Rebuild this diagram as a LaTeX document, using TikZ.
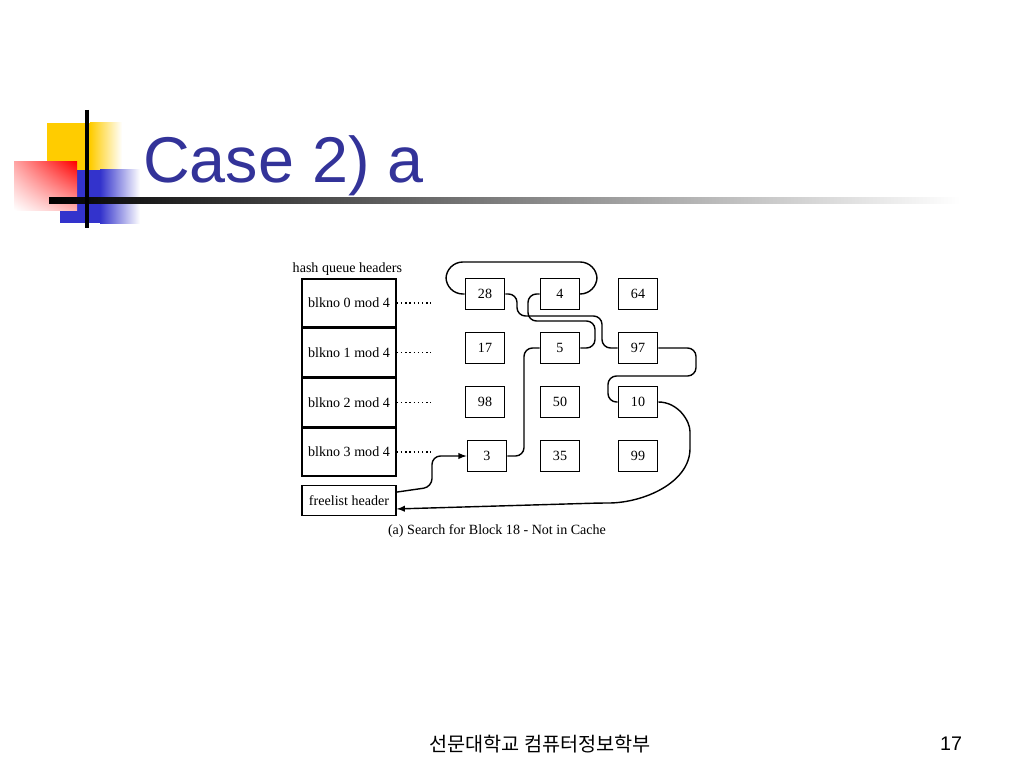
\documentclass[tikz,border=0pt]{standalone}
\usepackage{fontspec}
\setmainfont{Liberation Serif}
\setsansfont{Liberation Sans}
\newfontfamily\cjk{Noto Sans CJK KR}
\usetikzlibrary{shapes,arrows,positioning,shadings}
\definecolor{titleblue}{RGB}{51,51,153}
\definecolor{logoyellow}{RGB}{255,204,0}
\definecolor{logored}{RGB}{255,0,0}
\definecolor{logoblue}{RGB}{51,51,204}
\tikzstyle{hdr} = [rectangle,draw,line width=1pt,minimum width=2.35cm,
  minimum height=1.206cm,inner sep=0pt,font=\fontsize{10}{12}\selectfont]
\tikzstyle{buf} = [rectangle,draw,line width=1.3pt,minimum width=0.975cm,
  minimum height=0.775cm,inner sep=0pt,font=\fontsize{10}{12}\selectfont]
\tikzstyle{link} = [line width=1pt,rounded corners=6pt,>=latex]

\begin{document}
\begin{tikzpicture}[x=0.025cm,y=-0.025cm]
\useasboundingbox (0,0) rectangle (1024,768);

% logo and title rule
\fill[logoyellow] (47,123) rectangle (90,170);
\shade[left color=logoyellow,right color=white] (90,123) rectangle (122,170);
\fill[logoblue] (60,170) rectangle (100,223);
\shade[left color=logoblue,right color=white] (100,170) rectangle (140,223);
\shade[upper left=logored!35,upper right=logored,lower left=white,
  lower right=logored!30] (14,162) rectangle (77,210);
\shade[left color=black,right color=white] (49,197.5) rectangle (960,203);
\draw[line width=2.5pt] (87,110) -- (87,228);

\node[anchor=base west,inner sep=0pt,text=titleblue,
  font=\sffamily\fontsize{46}{50}\selectfont] (title) at (143,183) {Case 2) a};

% hash queues
\node[hdr] (hq0) at (349,303) {blkno 0 mod 4};
\node[hdr,below=0pt of hq0] (hq1) {blkno 1 mod 4};
\node[hdr,below=0pt of hq1] (hq2) {blkno 2 mod 4};
\node[hdr,below=0pt of hq2] (hq3) {blkno 3 mod 4};
\node[hdr,minimum height=0.75cm,below=0.2cm of hq3] (fl) {freelist header};
\node[above=1pt of hq0,xshift=-0.04cm,inner sep=1pt,
  font=\fontsize{10}{12}\selectfont] (hqh) {hash queue headers};

\foreach \i in {0,...,3}
  \draw[dotted,line width=1pt] (hq\i.east) -- ++(34,0);

\foreach \n/\x/\y in {28/485/294,4/560/294,64/638/294,
                      17/485/348,5/560/348,97/638/348,
                      98/485/402,50/560/402,10/638/402,
                      3/487/456,35/560/456,99/638/456}
  \node[buf] (b\n) at (\x,\y) {\n};

% free list
\draw[link,->] ([yshift=6pt]fl.east) -- (432,487) -- (432,456) -- (b3.west);
\draw[link] (b3.east) -| (524,348) -- (b5.west);
\draw[link] (b5.east) -- (595,348) -- (595,321) -- (528,321) -- (528,294) -- (b4.west);
\draw[link,rounded corners=12pt] (b4.east) -- (597,294) -- (597,262)
  -- (446,262) -- (446,294) -- (b28.west);
\draw[link] (b28.east) -- (517,294) -- (517,316) -- (602,316) -- (602,348) -- (b97.west);
\draw[link] (b97.east) -- (696,348) -- (696,376) -- (608,376) -- (608,402) -- (b10.west);
\draw[link,->] (b10.east) to[out=0,in=90] (690,440) to[out=-90,in=0] (600,503)
  -- ([yshift=-6pt]fl.east);

\node[font=\fontsize{10}{12}\selectfont] (cap) at (497,531)
  {(a) Search for Block 18 - Not in Cache};

\node[font=\cjk\fontsize{14}{16}\selectfont] (foot) at (540,744) {선문대학교 컴퓨터정보학부};
\node[font=\sffamily\fontsize{14}{16}\selectfont] (page) at (951,744) {17};
\end{tikzpicture}
\end{document}
